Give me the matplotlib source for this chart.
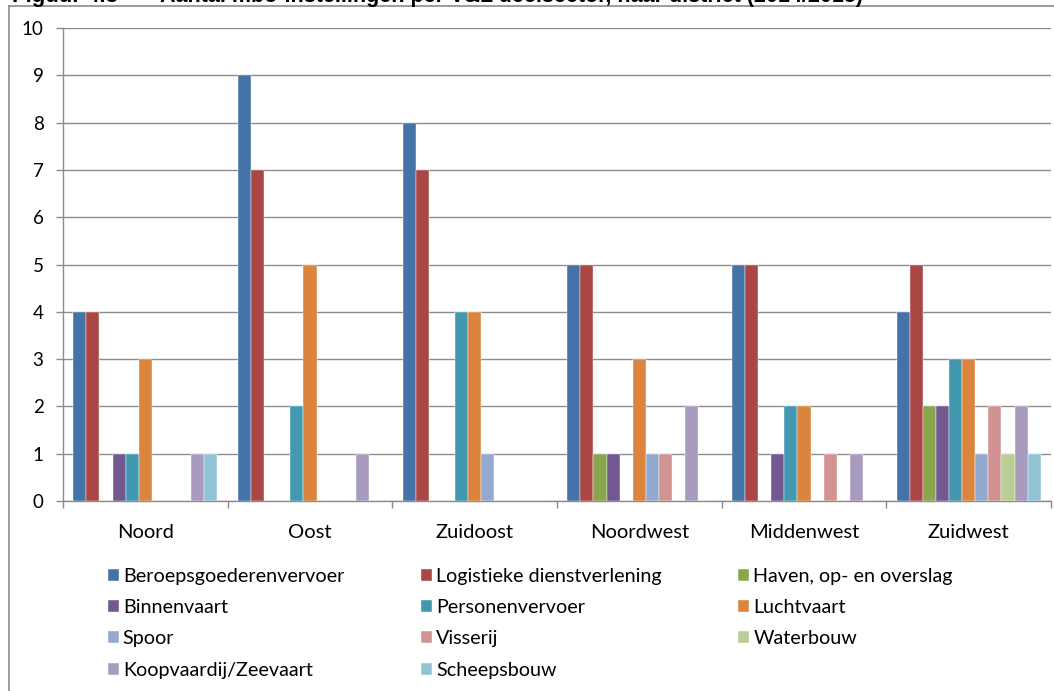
import numpy as np
import matplotlib
matplotlib.use('Agg')
import matplotlib.pyplot as plt
from matplotlib.lines import Line2D

plt.rcParams['font.family'] = ['Lato', 'DejaVu Sans']

districts = ['Noord', 'Oost', 'Zuidoost', 'Noordwest', 'Middenwest', 'Zuidwest']
sectors = ['Beroepsgoederenvervoer', 'Logistieke dienstverlening', 'Haven, op- en overslag',
           'Binnenvaart', 'Personenvervoer', 'Luchtvaart', 'Spoor', 'Visserij', 'Waterbouw',
           'Koopvaardij/Zeevaart', 'Scheepsbouw']
colors = ['#4572A7', '#AA4643', '#89A54E', '#71588F', '#4198AF', '#DB843D',
          '#93A9CF', '#D19392', '#B9CD96', '#A99BBD', '#92C4D6']

# counts per sector, one value per district
beroepsgoederenvervoer = [4, 9, 8, 5, 5, 4]
logistieke = [4, 7, 7, 5, 5, 5]
haven = [0, 0, 0, 1, 0, 2]
binnenvaart = [1, 0, 0, 1, 1, 2]
personenvervoer = [1, 2, 4, 0, 2, 3]
luchtvaart = [3, 5, 4, 3, 2, 3]
spoor = [0, 0, 1, 1, 0, 1]
visserij = [0, 0, 0, 1, 1, 2]
waterbouw = [0, 0, 0, 0, 0, 1]
koopvaardij = [1, 1, 0, 2, 1, 2]
scheepsbouw = [1, 0, 0, 0, 0, 1]
series = [beroepsgoederenvervoer, logistieke, haven, binnenvaart, personenvervoer, luchtvaart,
          spoor, visserij, waterbouw, koopvaardij, scheepsbouw]

W, H = 1054, 691
fig = plt.figure(figsize=(W / 100, H / 100), dpi=100)
ax = fig.add_axes([63 / W, 1 - 501 / H, (1051 - 63) / W, (501 - 28) / H])

n = len(series)
bw = 0.875 / n
x = np.arange(len(districts)) + 0.5
handles = []
for j, (vals, c) in enumerate(zip(series, colors)):
    b = ax.bar(x - 0.4375 + (j + 0.5) * bw, vals, width=bw, color=c,
               edgecolor='white', linewidth=0.3, zorder=3)
    handles.append(b)

ax.set_xlim(0, len(districts))
ax.set_ylim(0, 10)
ax.set_yticks(range(0, 11))
ax.grid(True, axis='y', color='#8c8c8c', linewidth=1.0, zorder=0)
ax.set_xticks(x)
ax.set_xticklabels(districts, fontsize=14.5)
ax.set_xticks(np.arange(len(districts) + 1), minor=True)
ax.tick_params(axis='x', which='major', length=0, pad=16.5)
ax.tick_params(axis='x', which='minor', length=5, color='#8c8c8c', width=1)
ax.tick_params(axis='y', length=5, color='#8c8c8c', width=1, pad=9, labelsize=13.5)
for s in ['top', 'right']:
    ax.spines[s].set_visible(False)
for s in ['left', 'bottom']:
    ax.spines[s].set_color('#8c8c8c')
    ax.spines[s].set_linewidth(1.0)

order = [0, 3, 6, 9, 1, 4, 7, 10, 2, 5, 8]
leg = fig.legend([handles[i] for i in order], [sectors[i] for i in order], ncol=3,
                 loc='upper left', bbox_to_anchor=(108 / W, 1 - 568 / H), frameon=False,
                 fontsize=14.2, handlelength=0.55, handleheight=0.55, handletextpad=0.2,
                 columnspacing=3.9, labelspacing=0.72, borderaxespad=0, borderpad=0)

# outer frame of the figure box
fig.add_artist(Line2D([9 / W, 1], [1 - 6 / H, 1 - 6 / H], color='#8c8c8c', linewidth=1.2))
fig.add_artist(Line2D([9 / W, 9 / W], [0, 1 - 6 / H], color='#8c8c8c', linewidth=1.2))
fig.text(12 / W, 1 - 2 / H, 'Figuur 4.3', family='Liberation Sans', weight='bold',
         fontsize=16, va='baseline', ha='left')
fig.text(160 / W, 1 - 2 / H, 'Aantal mbo-instellingen per V&L deelsector, naar district (2014/2015)',
         family='Liberation Sans', weight='bold', fontsize=15.5, va='baseline', ha='left')

fig.savefig('out.png', dpi=100)
